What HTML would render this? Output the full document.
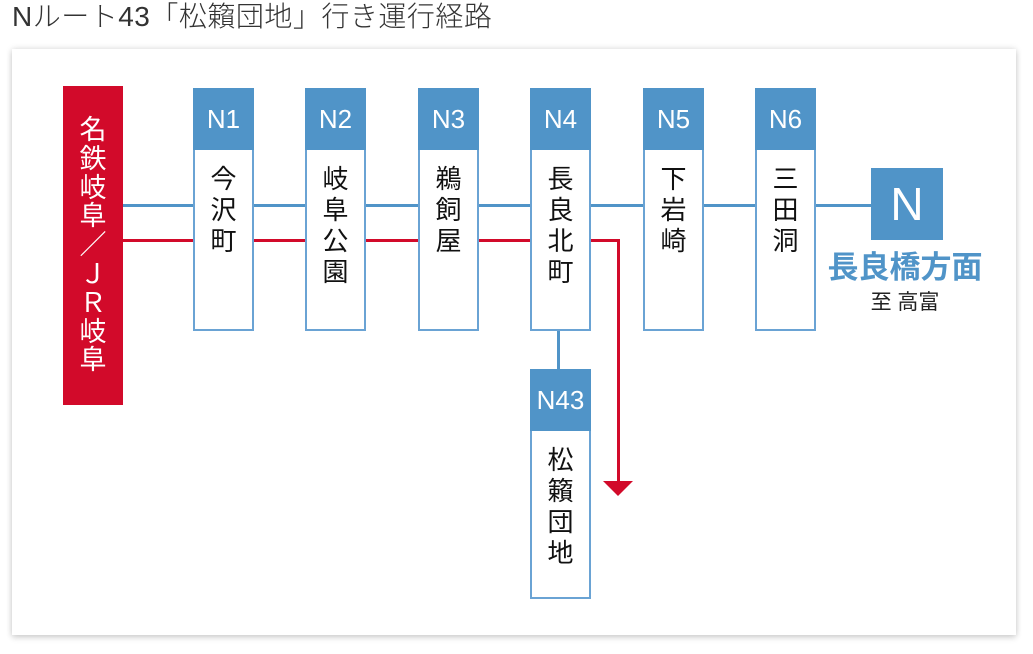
<!DOCTYPE html>
<html><head><meta charset="utf-8"><style>
*{margin:0;padding:0;box-sizing:border-box}
body{width:1033px;height:654px;background:#fff;position:relative;overflow:hidden;font-family:"Liberation Sans","Noto Sans CJK JP",sans-serif}
.title{position:absolute;left:12px;top:-1px;font-size:28px;color:#333;line-height:36px;font-weight:300;letter-spacing:0.5px}
.card{position:absolute;left:12px;top:49px;width:1004px;height:586px;background:#fff;box-shadow:0 0 6px rgba(0,0,0,.15),0 3px 6px rgba(0,0,0,.12)}
.a{position:absolute}
.hd{position:absolute;background:#5094c8;color:#fff;font-size:26px;text-align:center;line-height:62px}
.bd{position:absolute;background:#fff;border:2px solid #6aa3d4;border-top:none;text-align:center;font-size:26px;line-height:31px;color:#111;padding-top:14px}
</style></head><body>
<div class="title">Nルート43「松籟団地」行き運行経路</div>
<div class="card"></div>
<div class="a" style="left:123px;top:204px;width:750px;height:3px;background:#5094c8"></div>
<div class="a" style="left:123px;top:239px;width:495px;height:3px;background:#d20a2a"></div>
<div class="a" style="left:617px;top:239px;width:3px;height:245px;background:#d20a2a"></div>
<svg class="a" style="left:602px;top:480px" width="32" height="18"><polygon points="1,1 31,1 16,16" fill="#d20a2a"/></svg>
<div class="a" style="left:557px;top:330px;width:3px;height:40px;background:#5094c8"></div>
<div class="a" style="left:63px;top:86px;width:60px;height:319px;background:#d20a2a;color:#fff;font-size:27px;line-height:28.8px;text-align:center;padding-top:30px">名<br>鉄<br>岐<br>阜<br>／<br>Ｊ<br>Ｒ<br>岐<br>阜</div>
<div class="hd" style="left:193px;top:88px;width:61px;height:62px">N1</div>
<div class="bd" style="left:193px;top:150px;width:61px;height:181px">今<br>沢<br>町</div>
<div class="hd" style="left:305px;top:88px;width:61px;height:62px">N2</div>
<div class="bd" style="left:305px;top:150px;width:61px;height:181px">岐<br>阜<br>公<br>園</div>
<div class="hd" style="left:418px;top:88px;width:61px;height:62px">N3</div>
<div class="bd" style="left:418px;top:150px;width:61px;height:181px">鵜<br>飼<br>屋</div>
<div class="hd" style="left:530px;top:88px;width:61px;height:62px">N4</div>
<div class="bd" style="left:530px;top:150px;width:61px;height:181px">長<br>良<br>北<br>町</div>
<div class="hd" style="left:643px;top:88px;width:61px;height:62px">N5</div>
<div class="bd" style="left:643px;top:150px;width:61px;height:181px">下<br>岩<br>崎</div>
<div class="hd" style="left:755px;top:88px;width:61px;height:62px">N6</div>
<div class="bd" style="left:755px;top:150px;width:61px;height:181px">三<br>田<br>洞</div>
<div class="hd" style="left:530px;top:369px;width:61px;height:62px">N43</div>
<div class="bd" style="left:530px;top:431px;width:61px;height:168px">松<br>籟<br>団<br>地</div>
<div class="hd" style="left:871px;top:168px;width:72px;height:72px;line-height:72px;font-size:46px">N</div>
<div class="a" style="left:807px;top:249px;width:196px;text-align:center;color:#5094c8;font-size:31px;font-weight:bold;line-height:38px">長良橋方面</div>
<div class="a" style="left:807px;top:289px;width:196px;text-align:center;color:#222;font-size:21px;line-height:28px">至 高富</div>
</body></html>
